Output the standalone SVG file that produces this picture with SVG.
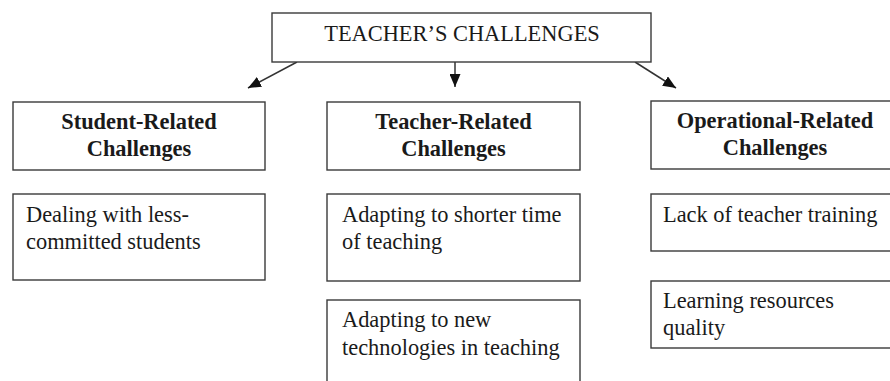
<svg xmlns="http://www.w3.org/2000/svg" width="890" height="381" viewBox="0 0 890 381">
  <defs>
    <marker id="arrowhead" markerUnits="userSpaceOnUse" markerWidth="13" markerHeight="11" refX="13" refY="5.5" orient="auto">
      <path d="M0,0 L13,5.5 L0,11 z" fill="#111"/>
    </marker>
    <style>
      .box { fill: #fff; stroke: #3a3a3a; stroke-width: 1.4; }
      .title { font-family: "Liberation Serif", "Times New Roman", serif; font-size: 22.4px; fill: #1a1a1a; text-anchor: middle; }
      .head { font-family: "Liberation Serif", "Times New Roman", serif; font-size: 22.4px; font-weight: bold; fill: #1a1a1a; text-anchor: middle; }
      .item { font-family: "Liberation Serif", "Times New Roman", serif; font-size: 22.4px; fill: #1a1a1a; }
      .link { stroke: #333; stroke-width: 1.5; fill: none; marker-end: url(#arrowhead); }
    </style>
  </defs>
  <rect width="890" height="381" fill="#fff"/>

  <!-- connectors from the top box to the three categories -->
  <g id="connectors">
    <line class="link" x1="297" y1="62" x2="248" y2="88"/>
    <line class="link" x1="455" y1="62" x2="455" y2="87"/>
    <line class="link" x1="635" y1="62" x2="676" y2="88"/>
  </g>

  <g id="root">
    <rect class="box" x="272" y="13" width="379" height="49"/>
    <text class="title" x="462" y="41">TEACHER’S CHALLENGES</text>
  </g>

  <g id="student-related">
    <rect class="box" x="13" y="102" width="252" height="68"/>
    <text class="head" x="139" y="129">Student-Related</text>
    <text class="head" x="139" y="156">Challenges</text>
  </g>

  <g id="teacher-related">
    <rect class="box" x="327" y="102" width="253" height="68"/>
    <text class="head" x="453.5" y="129">Teacher-Related</text>
    <text class="head" x="453.5" y="156">Challenges</text>
  </g>

  <g id="operational-related">
    <rect class="box" x="651" y="101" width="248" height="68"/>
    <text class="head" x="775" y="128">Operational-Related</text>
    <text class="head" x="775" y="155">Challenges</text>
  </g>

  <g id="less-committed-students">
    <rect class="box" x="13" y="194" width="252" height="86"/>
    <text class="item" x="26" y="222">Dealing with less-</text>
    <text class="item" x="26" y="249">committed students</text>
  </g>

  <g id="shorter-teaching-time">
    <rect class="box" x="327" y="194" width="253" height="87"/>
    <text class="item" x="342" y="222">Adapting to shorter time</text>
    <text class="item" x="342" y="249">of teaching</text>
  </g>

  <g id="new-technologies">
    <rect class="box" x="327" y="300" width="253" height="100"/>
    <text class="item" x="342" y="327">Adapting to new</text>
    <text class="item" x="342" y="355">technologies in teaching</text>
  </g>

  <g id="teacher-training">
    <rect class="box" x="651" y="194" width="248" height="57"/>
    <text class="item" x="663" y="222">Lack of teacher training</text>
  </g>

  <g id="learning-resources">
    <rect class="box" x="651" y="281" width="248" height="67"/>
    <text class="item" x="663" y="308">Learning resources</text>
    <text class="item" x="663" y="335">quality</text>
  </g>
</svg>
